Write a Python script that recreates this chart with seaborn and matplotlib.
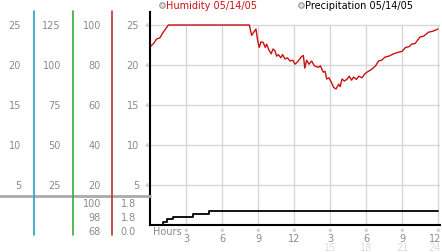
import matplotlib
matplotlib.use("Agg")
import matplotlib.pyplot as plt
import matplotlib.transforms as mtransforms
from matplotlib.lines import Line2D
import seaborn as sns
import pandas as pd

# ---- data ----
hum_hours = [0.0, 0.3, 0.55, 0.83, 1.1, 1.3, 1.53, 8.28, 8.47, 8.6, 8.83, 8.95, 9.1, 9.25, 9.44,
             9.6, 9.72, 9.9, 10.1, 10.25, 10.4, 10.55, 10.7, 10.9, 11.05, 11.25, 11.45, 11.67,
             11.9, 12.08, 12.3, 12.6, 12.78, 12.9, 13.05, 13.25, 13.47, 13.7, 14.03, 14.2,
             14.44, 14.6, 14.72, 14.9, 15.1, 15.3, 15.5, 15.72, 15.85, 16.0, 16.2, 16.4, 16.6,
             16.8, 16.97, 17.2, 17.4, 17.67, 17.9, 18.08, 18.3, 18.5, 18.8, 19.05, 19.3, 19.6,
             19.9, 20.3, 20.7, 21.0, 21.3, 21.6, 21.8, 22.1, 22.5, 22.8, 23.2, 23.5, 23.7, 24.0]
hum_values = [22.25, 22.7, 23.25, 23.4, 24.1, 24.5, 25.0, 25.0, 23.7, 24.0, 24.5, 23.25, 22.2, 22.9, 22.8,
              22.2, 22.6, 21.9, 21.4, 22.0, 21.8, 21.1, 21.3, 20.9, 21.3, 20.75, 20.9, 20.5,
              20.6, 20.1, 20.4, 21.0, 21.2, 19.6, 20.6, 20.1, 20.5, 19.9, 19.7, 19.9,
              19.1, 19.2, 18.25, 18.4, 17.9, 17.2, 17.0, 17.6, 17.3, 18.25, 18.0, 18.2, 18.6,
              18.1, 18.5, 18.2, 18.6, 18.4, 18.9, 19.1, 19.3, 19.5, 19.9, 20.5, 20.6, 21.0,
              21.1, 21.4, 21.6, 21.7, 22.2, 22.3, 22.6, 22.7, 23.5, 23.6, 24.1, 24.2, 24.3, 24.5]

pre_hours = [0.0, 1.0, 1.1, 1.4, 1.9, 3.6, 4.9, 24.0]
pre_values = [0.0, 0.0, 0.28, 0.69, 0.97, 1.38, 1.8, 1.8]

col1_labels = [5, 10, 15, 20, 25]
col2_labels = [25, 50, 75, 100, 125]
col3_labels = [20, 40, 60, 80, 100]
col4_labels = [5, 10, 15, 20, 25]
bottom_col3 = ["100", "98", "68"]
bottom_col4 = ["1.8", "1.8", "0.0"]
xtick_hours = [3, 6, 9, 12, 15, 18, 21, 24]
xtick_labels = ["3", "6", "9", "12", "3", "6", "9", "12"]
xtick2_hours = [15, 18, 21, 24]
xtick2_labels = ["15", "18", "21", "24"]

sns.set_style("white")
plt.rcParams['font.family'] = ['DejaVu Sans']

W, H = 442, 253
fig = plt.figure(figsize=(W / 100, H / 100), dpi=100)

def fx(px):
    return px / W

def fy(py):
    return 1 - py / H

# top axes: pixel y 13..197, x 150..440
ax = fig.add_axes([fx(150), fy(197), fx(290), (197 - 13) / H])
axb = fig.add_axes([fx(150), fy(225.5), fx(290), (225.5 - 197) / H])

XMAX = 24 + 2 / 12.0
ax.set_xlim(0, XMAX)
ax.set_ylim(3.625, 26.625)
axb.set_xlim(0, XMAX)
axb.set_ylim(0, 3.8)

gridc = "#d8d8d8"
for a in (ax, axb):
    a.set_xticks([])
    a.set_yticks([])
    for s in ("top", "right", "bottom"):
        a.spines[s].set_visible(False)
    a.spines["left"].set_color("black")
    a.spines["left"].set_linewidth(1.5)
    a.set_facecolor("none")
axb.spines["bottom"].set_visible(True)
axb.spines["bottom"].set_color("black")
axb.spines["bottom"].set_linewidth(1.5)

top_frac = (25 - 3.625) / (26.625 - 3.625)
for h in xtick_hours:
    ax.axvline(h, ymin=0, ymax=top_frac, color=gridc, lw=1, zorder=0)
    axb.axvline(h, color=gridc, lw=1, zorder=0)
for v in col4_labels:
    ax.axhline(v, color=gridc, lw=1, zorder=0)

df_h = pd.DataFrame({"hour": hum_hours, "value": hum_values})
df_p = pd.DataFrame({"hour": pre_hours, "value": pre_values})
sns.lineplot(data=df_h, x="hour", y="value", ax=ax, color="#cc1111", lw=1.0, legend=False)
sns.lineplot(data=df_p, x="hour", y="value", ax=axb, color="black", lw=1.3,
             drawstyle="steps-post", legend=False)
for a in (ax, axb):
    a.set_xlabel("")
    a.set_ylabel("")
    a.set_xticks([])
    a.set_yticks([])

labc = "#8a8a8a"
fs = 7
blend = mtransforms.blended_transform_factory(fig.transFigure, ax.transData)
for i in range(5):
    v = col4_labels[i]
    fig.text(fx(21), v, str(col1_labels[i]), transform=blend, ha="right", va="center", fontsize=fs, color=labc)
    fig.text(fx(61), v, str(col2_labels[i]), transform=blend, ha="right", va="center", fontsize=fs, color=labc)
    fig.text(fx(101), v, str(col3_labels[i]), transform=blend, ha="right", va="center", fontsize=fs, color=labc)
    fig.text(fx(139), v, str(col4_labels[i]), transform=blend, ha="right", va="center", fontsize=fs, color=labc)
    fig.text(fx(146.5), v, "※", transform=blend, ha="center", va="center", fontsize=4, color="#aaaaaa")

for i, py in enumerate([204.5, 218.5, 232.5]):
    fig.text(fx(101), fy(py), bottom_col3[i], ha="right", va="center", fontsize=fs, color=labc)
    fig.text(fx(136), fy(py), bottom_col4[i], ha="right", va="center", fontsize=fs, color=labc)

# separator and coloured axis lines
fig.add_artist(Line2D([0, fx(150)], [fy(197), fy(197)], color="#aaaaaa", lw=2))
for px, c in [(33.5, "#2aa0c8"), (72.5, "#3aaa3a"), (111.5, "#c03030")]:
    fig.add_artist(Line2D([fx(px), fx(px)], [fy(12), fy(236)], color=c, lw=1.2))

# x tick labels
blendx = mtransforms.blended_transform_factory(axb.transData, fig.transFigure)
for h, lab in zip(xtick_hours, xtick_labels):
    axb.text(h, fy(230.5), "※", transform=blendx, ha="center", va="center", fontsize=4, color="#aaaaaa")
    if h == 24:
        fig.text(fx(441), fy(239), lab, ha="right", va="center", fontsize=fs, color=labc)
    else:
        axb.text(h, fy(239), lab, transform=blendx, ha="center", va="center", fontsize=fs, color=labc)
for h, lab in zip(xtick2_hours, xtick2_labels):
    if h == 24:
        fig.text(fx(441), fy(248), lab, ha="right", va="center", fontsize=fs, color="#dddddd")
    else:
        axb.text(h, fy(248), lab, transform=blendx, ha="center", va="center", fontsize=fs, color="#dddddd")
fig.text(fx(153), fy(232.5), "Hours", ha="left", va="center", fontsize=fs, color=labc)

# legend
fig.add_artist(Line2D([fx(162)], [fy(6)], marker="o", ms=4, mfc="#dddddd", mec="#999999", mew=0.8))
fig.text(fx(166), fy(6), "Humidity 05/14/05", ha="left", va="center", fontsize=7, color="#cc1111")
fig.add_artist(Line2D([fx(300.5)], [fy(6)], marker="o", ms=4, mfc="#dddddd", mec="#999999", mew=0.8))
fig.text(fx(305), fy(6), "Precipitation 05/14/05", ha="left", va="center", fontsize=7, color="black")

fig.savefig("out.png", dpi=100)
